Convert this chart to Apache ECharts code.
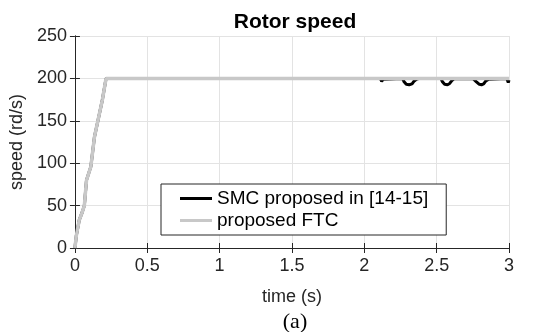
<!DOCTYPE html>
<html>
<head>
<meta charset="utf-8">
<script src="https://cdn.jsdelivr.net/npm/echarts@6/dist/echarts.min.js"></script>
<style>html,body{margin:0;padding:0;background:#fff;}#c{width:540px;height:332px;}</style>
</head>
<body>
<div id="c"></div>
<script>
const chartTitle = 'Rotor speed';
const subLabel = '(a)';
const xName = 'time (s)';
const yName = 'speed (rd/s)';
const seriesNames = ['SMC proposed in [14-15]', 'proposed FTC'];

const timeSMC  = [0, 0.01, 0.03, 0.05, 0.065, 0.08, 0.11, 0.135, 0.16, 0.19, 0.215, 2.11, 2.12, 2.13, 2.14, 2.265, 2.275, 2.29, 2.31, 2.33, 2.345, 2.36, 2.38, 2.53, 2.54, 2.555, 2.575, 2.59, 2.605, 2.62, 2.75, 2.76, 2.775, 2.795, 2.81, 2.825, 2.84, 2.86, 2.985, 2.99, 2.995, 3.0];
const speedSMC = [0, 15, 33, 42, 50, 80, 96, 131, 151, 175, 200, 200, 196.5, 199, 200, 200, 196, 193, 192.5, 193.5, 197, 199, 200, 200, 196, 193, 192.5, 194, 197.5, 199.5, 200, 200, 196, 193, 192.5, 193.5, 197, 199, 200, 200, 195, 198];

const timeFTC  = [0, 0.01, 0.03, 0.05, 0.065, 0.08, 0.11, 0.135, 0.16, 0.19, 0.215, 3.0];
const speedFTC = [0, 15, 33, 42, 50, 80, 96, 131, 151, 175, 200, 200];

const xTicks = {min: 0, max: 3, interval: 0.5};
const yTicks = {min: 0, max: 250, interval: 50};

const smcData = timeSMC.map((t, i) => [t, speedSMC[i]]);
const ftcData = timeFTC.map((t, i) => [t, speedFTC[i]]);

const axisCol = '#262626';
const font = 'Liberation Sans, Arial, Helvetica, sans-serif';

const chart = echarts.init(document.getElementById('c'), null, {renderer: 'canvas'});
chart.setOption({
  animation: false,
  backgroundColor: '#fff',
  title: [
    {text: chartTitle, left: 290, top: 7, textAlign: 'center',
     textStyle: {fontFamily: font, fontSize: 21, fontWeight: 'bold', color: '#000'}},
    {text: subLabel, left: 290, top: 306, textAlign: 'center',
     textStyle: {fontFamily: 'Liberation Serif, Times New Roman, serif', fontSize: 22, fontWeight: 'normal', color: '#000'}}
  ],
  grid: {left: 72, top: 36, right: 31, bottom: 84, containLabel: false},
  legend: {
    orient: 'vertical', left: 161, top: 184,
    data: seriesNames.map(n => ({name: n, icon: 'rect'})),
    itemWidth: 32, itemHeight: 3, itemGap: 3,
    padding: [5, 18, 5, 19],
    borderColor: axisCol, borderWidth: 1, backgroundColor: '#fff',
    textStyle: {fontFamily: font, fontSize: 19, color: '#000'}
  },
  xAxis: [
    {type: 'value', min: xTicks.min, max: xTicks.max, interval: xTicks.interval, position: 'bottom',
     name: xName, nameLocation: 'middle', nameGap: 40,
     nameTextStyle: {fontFamily: font, fontSize: 18, color: '#262626'},
     axisLine: {show: true, lineStyle: {color: axisCol, width: 1}},
     axisTick: {show: true, inside: true, length: 5, lineStyle: {color: axisCol}},
     axisLabel: {margin: 9, fontFamily: font, fontSize: 18, color: '#262626'},
     splitLine: {show: true, lineStyle: {color: '#e3e3e3', width: 1}}},
    {type: 'value', min: xTicks.min, max: xTicks.max, interval: xTicks.interval, position: 'top',
     axisLine: {show: true, lineStyle: {color: axisCol, width: 1}},
     axisTick: {show: true, inside: true, length: 5, lineStyle: {color: axisCol}},
     axisLabel: {show: false}, splitLine: {show: false}}
  ],
  yAxis: [
    {type: 'value', min: yTicks.min, max: yTicks.max, interval: yTicks.interval, position: 'left',
     name: yName, nameLocation: 'middle', nameGap: 45,
     nameTextStyle: {fontFamily: font, fontSize: 18, color: '#262626'},
     axisLine: {show: true, lineStyle: {color: axisCol, width: 1}},
     axisTick: {show: true, inside: true, length: 5, lineStyle: {color: axisCol}},
     axisLabel: {margin: 8, fontFamily: font, fontSize: 18, color: '#262626'},
     splitLine: {show: true, lineStyle: {color: '#e3e3e3', width: 1}}},
    {type: 'value', min: yTicks.min, max: yTicks.max, interval: yTicks.interval, position: 'right',
     axisLine: {show: true, lineStyle: {color: axisCol, width: 1}},
     axisTick: {show: true, inside: true, length: 5, lineStyle: {color: axisCol}},
     axisLabel: {show: false}, splitLine: {show: false}}
  ],
  series: [
    {name: seriesNames[0], type: 'line', data: smcData, xAxisIndex: 0, yAxisIndex: 0,
     symbol: 'none', z: 2, color: '#000',
     lineStyle: {color: '#000', width: 3}},
    {name: seriesNames[1], type: 'line', data: ftcData, xAxisIndex: 0, yAxisIndex: 0,
     symbol: 'none', z: 3, color: '#c8c8c8',
     lineStyle: {color: '#c8c8c8', width: 3.5}}
  ]
});
</script>
</body>
</html>
